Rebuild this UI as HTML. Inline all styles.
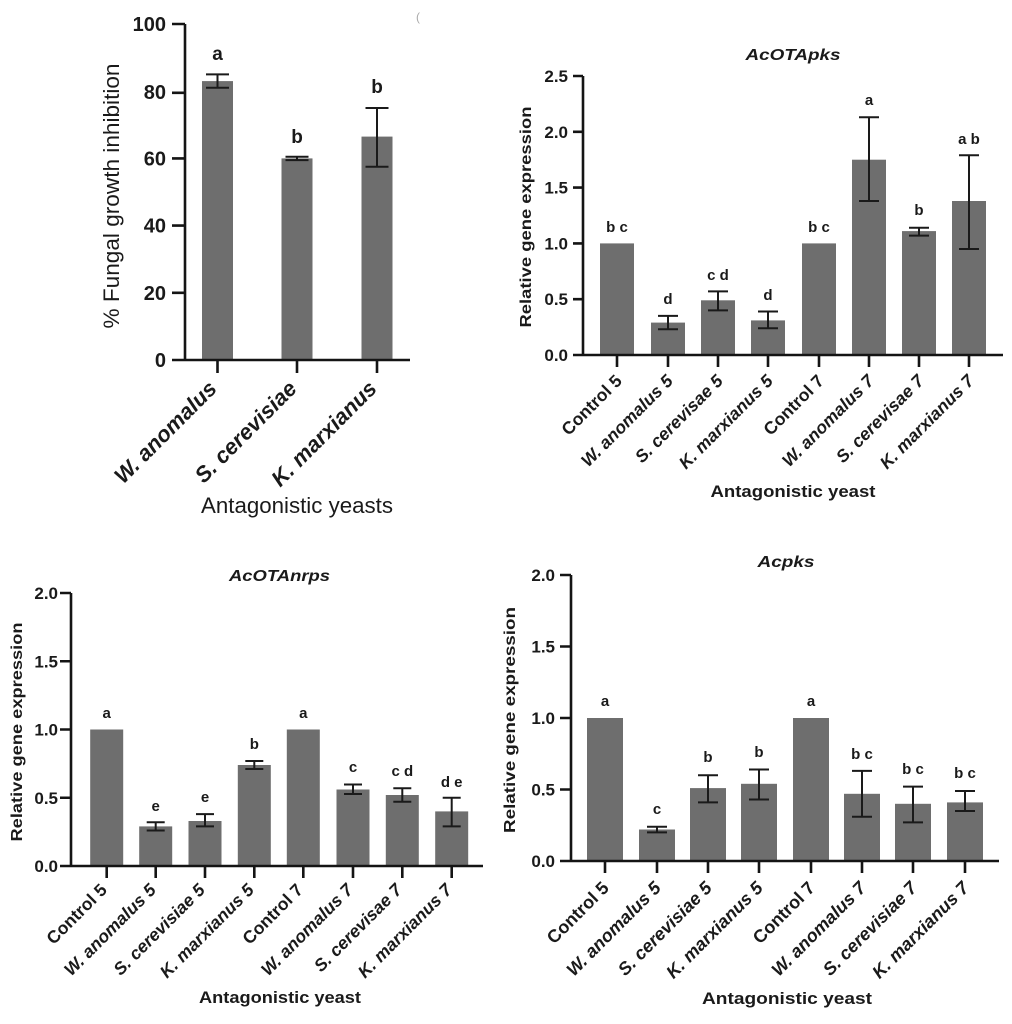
<!DOCTYPE html>
<html><head><meta charset="utf-8"><style>
html,body{margin:0;padding:0;background:#fff;}
svg{display:block;}
text{font-family:"Liberation Sans",Arial,sans-serif;fill:#1a1a1a;}
.b{font-weight:bold;}
.i{font-style:italic;}
.bar{fill:#6e6e6e;}
.ax{stroke:#141414;stroke-width:2.6;fill:none;}
.er{stroke:#1a1a1a;stroke-width:2;fill:none;}
</style></head><body>
<svg width="1012" height="1024" viewBox="0 0 1012 1024" xmlns="http://www.w3.org/2000/svg">
<rect width="1012" height="1024" fill="#fff"/>
<text x="416" y="21" font-size="12" style="fill:#aaa">(</text>

<!-- ===== Top-left panel ===== -->
<g>
<rect class="bar" x="202" y="81.1" width="31" height="278.9"/>
<rect class="bar" x="281.5" y="158.4" width="31" height="201.6"/>
<rect class="bar" x="361.5" y="136.6" width="31" height="223.4"/>
<path class="er" d="M217.5 74.4V87.8M206 74.4H229M206 87.8H229"/>
<path class="er" d="M297 156.7V160.1M285.5 156.7H308.5M285.5 160.1H308.5"/>
<path class="er" d="M377 108V166.8M365.5 108H388.5M365.5 166.8H388.5"/>
<path class="ax" d="M185 24V360M172 360H410"/>
<path class="ax" d="M172 24H185M172 92.8H185M172 158.4H185M172 225.6H185M172 292.8H185M217.5 360V373M297 360V373M377 360V373"/>
<g class="b" font-size="20" text-anchor="end">
<text x="166" y="31">100</text><text x="166" y="99">80</text><text x="166" y="165.5">60</text>
<text x="166" y="232.5">40</text><text x="166" y="300">20</text><text x="166" y="367">0</text>
</g>
<g font-size="19" text-anchor="middle" class="b">
<text x="217.5" y="60">a</text><text x="297" y="143">b</text><text x="377" y="93">b</text>
</g>
<text transform="translate(119,196) rotate(-90)" text-anchor="middle" font-size="22" textLength="265" lengthAdjust="spacingAndGlyphs">% Fungal growth inhibition</text>
<g class="b i" font-size="22" text-anchor="end">
<text transform="translate(218,390) rotate(-45)">W. anomalus</text>
<text transform="translate(298,390) rotate(-45)">S. cerevisiae</text>
<text transform="translate(378,390) rotate(-45)">K. marxianus</text>
</g>
<text x="297" y="513" text-anchor="middle" font-size="22" textLength="192" lengthAdjust="spacingAndGlyphs">Antagonistic yeasts</text>
</g>

<!-- ===== Top-right panel AcOTApks ===== -->
<g>
<text x="793" y="60" text-anchor="middle" class="b i" font-size="16" textLength="95" lengthAdjust="spacingAndGlyphs">AcOTApks</text>
<rect class="bar" x="600" y="243.4" width="34" height="111.6"/>
<rect class="bar" x="651" y="322.6" width="34" height="32.4"/>
<rect class="bar" x="701" y="300.3" width="34" height="54.7"/>
<rect class="bar" x="751" y="320.4" width="34" height="34.6"/>
<rect class="bar" x="802" y="243.4" width="34" height="111.6"/>
<rect class="bar" x="852" y="159.7" width="34" height="195.3"/>
<rect class="bar" x="902" y="231.1" width="34" height="123.9"/>
<rect class="bar" x="952" y="201" width="34" height="154"/>
<path class="er" d="M668 315.9V329.3M658 315.9H678M658 329.3H678"/>
<path class="er" d="M718 291.4V310.4M708 291.4H728M708 310.4H728"/>
<path class="er" d="M768 311.5V328.2M758 311.5H778M758 328.2H778"/>
<path class="er" d="M869 117.3V201M859 117.3H879M859 201H879"/>
<path class="er" d="M919 227.8V235.6M909 227.8H929M909 235.6H929"/>
<path class="er" d="M969 155.2V249M959 155.2H979M959 249H979"/>
<path class="ax" d="M583 76V355M573 355H1003"/>
<path class="ax" d="M573 76H583M573 131.8H583M573 187.6H583M573 243.4H583M573 299.2H583M617 355V367M668 355V367M718 355V367M768 355V367M819 355V367M869 355V367M919 355V367M969 355V367"/>
<g class="b" font-size="17" text-anchor="end">
<text x="568" y="82">2.5</text><text x="568" y="138">2.0</text><text x="568" y="193.6">1.5</text>
<text x="568" y="249.4">1.0</text><text x="568" y="305.2">0.5</text><text x="568" y="361">0.0</text>
</g>
<g class="b" font-size="15" text-anchor="middle">
<text x="617" y="232">b c</text><text x="668" y="304">d</text><text x="718" y="280">c d</text><text x="768" y="300">d</text>
<text x="819" y="232">b c</text><text x="869" y="105">a</text><text x="919" y="215">b</text><text x="969" y="144">a b</text>
</g>
<text transform="translate(531,217) rotate(-90)" text-anchor="middle" class="b" font-size="16" textLength="221" lengthAdjust="spacingAndGlyphs">Relative gene expression</text>
<g class="b" font-size="17.5" text-anchor="end">
<text transform="translate(623,382) rotate(-45)">Control 5</text>
<text class="i" transform="translate(674,382) rotate(-45)">W. anomalus 5</text>
<text class="i" transform="translate(724,382) rotate(-45)">S. cerevisae 5</text>
<text class="i" transform="translate(774,382) rotate(-45)">K. marxianus 5</text>
<text transform="translate(825,382) rotate(-45)">Control 7</text>
<text class="i" transform="translate(875,382) rotate(-45)">W. anomalus 7</text>
<text class="i" transform="translate(925,382) rotate(-45)">S. cerevisae 7</text>
<text class="i" transform="translate(975,382) rotate(-45)">K. marxianus 7</text>
</g>
<text x="793" y="497" text-anchor="middle" class="b" font-size="17" textLength="165" lengthAdjust="spacingAndGlyphs">Antagonistic yeast</text>
</g>

<!-- ===== Bottom-left panel AcOTAnrps ===== -->
<g>
<text x="279.5" y="581" text-anchor="middle" class="b i" font-size="16" textLength="101" lengthAdjust="spacingAndGlyphs">AcOTAnrps</text>
<rect class="bar" x="90.2" y="729.5" width="33" height="136.5"/>
<rect class="bar" x="139.2" y="826.4" width="33" height="39.6"/>
<rect class="bar" x="188.5" y="821" width="33" height="45"/>
<rect class="bar" x="237.8" y="765" width="33" height="101"/>
<rect class="bar" x="286.8" y="729.5" width="33" height="136.5"/>
<rect class="bar" x="336.5" y="789.5" width="33" height="76.5"/>
<rect class="bar" x="385.8" y="795" width="33" height="71"/>
<rect class="bar" x="435.2" y="811.4" width="33" height="54.6"/>
<path class="er" d="M155.7 822.3V830.5M146.7 822.3H164.7M146.7 830.5H164.7"/>
<path class="er" d="M205 814.1V826.4M196 814.1H214M196 826.4H214"/>
<path class="er" d="M254.3 761V769M245.3 761H263.3M245.3 769H263.3"/>
<path class="er" d="M353 784.5V794M344 784.5H362M344 794H362"/>
<path class="er" d="M402.3 788.2V801.8M393.3 788.2H411.3M393.3 801.8H411.3"/>
<path class="er" d="M451.7 797.75V826.4M442.7 797.75H460.7M442.7 826.4H460.7"/>
<path class="ax" d="M71 593V866M60 866H483"/>
<path class="ax" d="M60 593H71M60 661.25H71M60 729.5H71M60 797.75H71M106.7 866V878M155.7 866V878M205 866V878M254.3 866V878M303.3 866V878M353 866V878M402.3 866V878M451.7 866V878"/>
<g class="b" font-size="17" text-anchor="end">
<text x="58" y="599">2.0</text><text x="58" y="667.25">1.5</text><text x="58" y="735.5">1.0</text>
<text x="58" y="803.75">0.5</text><text x="58" y="872">0.0</text>
</g>
<g class="b" font-size="15" text-anchor="middle">
<text x="106.7" y="718">a</text><text x="155.7" y="811">e</text><text x="205" y="802">e</text><text x="254.3" y="749">b</text>
<text x="303.3" y="718">a</text><text x="353" y="772">c</text><text x="402.3" y="776">c d</text><text x="451.7" y="787">d e</text>
</g>
<text transform="translate(22,732) rotate(-90)" text-anchor="middle" class="b" font-size="16" textLength="219" lengthAdjust="spacingAndGlyphs">Relative gene expression</text>
<g class="b" font-size="17.5" text-anchor="end">
<text transform="translate(108,891) rotate(-45)">Control 5</text>
<text class="i" transform="translate(157,891) rotate(-45)">W. anomalus 5</text>
<text class="i" transform="translate(206,891) rotate(-45)">S. cerevisiae 5</text>
<text class="i" transform="translate(255,891) rotate(-45)">K. marxianus 5</text>
<text transform="translate(304,891) rotate(-45)">Control 7</text>
<text class="i" transform="translate(354,891) rotate(-45)">W. anomalus 7</text>
<text class="i" transform="translate(403,891) rotate(-45)">S. cerevisae 7</text>
<text class="i" transform="translate(453,891) rotate(-45)">K. marxianus 7</text>
</g>
<text x="280" y="1003" text-anchor="middle" class="b" font-size="17" textLength="162" lengthAdjust="spacingAndGlyphs">Antagonistic yeast</text>
</g>

<!-- ===== Bottom-right panel Acpks ===== -->
<g>
<text x="786" y="567" text-anchor="middle" class="b i" font-size="16" textLength="57" lengthAdjust="spacingAndGlyphs">Acpks</text>
<rect class="bar" x="587" y="718" width="36" height="143"/>
<rect class="bar" x="639" y="829.5" width="36" height="31.5"/>
<rect class="bar" x="690" y="788.1" width="36" height="72.9"/>
<rect class="bar" x="741" y="783.8" width="36" height="77.2"/>
<rect class="bar" x="793" y="718" width="36" height="143"/>
<rect class="bar" x="844" y="793.8" width="36" height="67.2"/>
<rect class="bar" x="895" y="803.8" width="36" height="57.2"/>
<rect class="bar" x="947" y="802.4" width="36" height="58.6"/>
<path class="er" d="M657 826.7V832.4M647 826.7H667M647 832.4H667"/>
<path class="er" d="M708 775.2V802.4M698 775.2H718M698 802.4H718"/>
<path class="er" d="M759 769.5V799.5M749 769.5H769M749 799.5H769"/>
<path class="er" d="M862 770.9V816.7M852 770.9H872M852 816.7H872"/>
<path class="er" d="M913 786.6V822.4M903 786.6H923M903 822.4H923"/>
<path class="er" d="M965 791V811M955 791H975M955 811H975"/>
<path class="ax" d="M571 575V861M560 861H999"/>
<path class="ax" d="M560 575H571M560 646.5H571M560 718H571M560 789.5H571M605 861V873M657 861V873M708 861V873M759 861V873M811 861V873M862 861V873M913 861V873M965 861V873"/>
<g class="b" font-size="17" text-anchor="end">
<text x="555" y="581">2.0</text><text x="555" y="652.5">1.5</text><text x="555" y="724">1.0</text>
<text x="555" y="795.5">0.5</text><text x="555" y="867">0.0</text>
</g>
<g class="b" font-size="15" text-anchor="middle">
<text x="605" y="706">a</text><text x="657" y="814">c</text><text x="708" y="762">b</text><text x="759" y="757">b</text>
<text x="811" y="706">a</text><text x="862" y="759">b c</text><text x="913" y="774">b c</text><text x="965" y="778">b c</text>
</g>
<text transform="translate(515,720) rotate(-90)" text-anchor="middle" class="b" font-size="16" textLength="226" lengthAdjust="spacingAndGlyphs">Relative gene expression</text>
<g class="b" font-size="18" text-anchor="end">
<text transform="translate(610,889) rotate(-45)">Control 5</text>
<text class="i" transform="translate(662,889) rotate(-45)">W. anomalus 5</text>
<text class="i" transform="translate(713,889) rotate(-45)">S. cerevisiae 5</text>
<text class="i" transform="translate(764,889) rotate(-45)">K. marxianus 5</text>
<text transform="translate(816,889) rotate(-45)">Control 7</text>
<text class="i" transform="translate(867,889) rotate(-45)">W. anomalus 7</text>
<text class="i" transform="translate(918,889) rotate(-45)">S. cerevisiae 7</text>
<text class="i" transform="translate(970,889) rotate(-45)">K. marxianus 7</text>
</g>
<text x="787" y="1004" text-anchor="middle" class="b" font-size="17" textLength="170" lengthAdjust="spacingAndGlyphs">Antagonistic yeast</text>
</g>
</svg>
</body></html>
